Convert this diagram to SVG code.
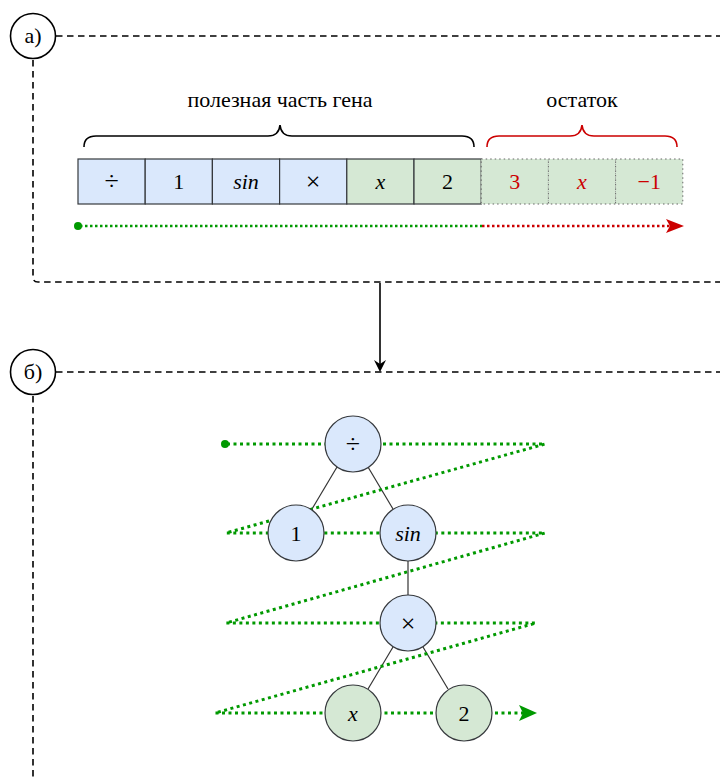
<svg xmlns="http://www.w3.org/2000/svg" width="720" height="781" viewBox="0 0 720 781">
<defs>
<style>
.frame{fill:none;stroke:#000;stroke-width:1.6;stroke-dasharray:6.5 4.5}
.lbl{fill:#fff;stroke:#000;stroke-width:1.6}
text{font-family:"Liberation Serif","Times New Roman",serif;text-anchor:middle;fill:#000}
.math{font-size:22px}
.op{font-size:26px}
.it{font-style:italic}
.red{fill:#cc0000}
.cb{fill:#dae8fc;stroke:#36393d;stroke-width:1.2}
.cg{fill:#d5e8d4;stroke:#36393d;stroke-width:1.2}
.cr{fill:#d5e8d4;stroke:#666;stroke-width:1;stroke-dasharray:1.5 3}
.edge{stroke:#333;stroke-width:1.2;fill:none}
.gdot{fill:none;stroke:#009900;stroke-width:2.5;stroke-dasharray:2.5 2.5}
.gzig{fill:none;stroke:#009900;stroke-width:3;stroke-dasharray:3 3.5;stroke-linejoin:miter;stroke-miterlimit:12}
.rdot{fill:none;stroke:#cc0000;stroke-width:2.5;stroke-dasharray:2.5 2.5}
</style>
</defs>

<g id="frame-a">
<path class="frame" d="M56,36 H720"/>
<path class="frame" d="M33,60 V277 Q33,282 38,282 H720"/>
<g id="label-a">
<circle class="lbl" cx="33" cy="36" r="22.5"/>
<text x="33" y="43" font-size="22">а)</text>
</g>
</g>

<g id="frame-b">
<path class="frame" d="M56,372 H720"/>
<path class="frame" d="M33,396 V781"/>
<g id="label-b">
<circle class="lbl" cx="33" cy="372" r="22.5"/>
<text x="33" y="379" font-size="22">б)</text>
</g>
</g>

<g id="gene">
<g id="cell-div"><rect class="cb" x="78" y="159" width="67.2" height="45"/><text class="op" x="111.6" y="190">÷</text></g>
<g id="cell-1"><rect class="cb" x="145.2" y="159" width="67.2" height="45"/><text class="math" x="178.8" y="189">1</text></g>
<g id="cell-sin"><rect class="cb" x="212.4" y="159" width="67.2" height="45"/><text class="math it" x="246" y="189">sin</text></g>
<g id="cell-mul"><rect class="cb" x="279.6" y="159" width="67.2" height="45"/><text class="op" x="313.2" y="190">×</text></g>
<g id="cell-x"><rect class="cg" x="346.8" y="159" width="67.2" height="45"/><text class="math it" x="380.4" y="189">x</text></g>
<g id="cell-2"><rect class="cg" x="414" y="159" width="67.2" height="45"/><text class="math" x="447.6" y="189">2</text></g>
<g id="cell-r3"><rect class="cr" x="481.2" y="159" width="67.2" height="45"/><text class="math red" x="514.8" y="189">3</text></g>
<g id="cell-rx"><rect class="cr" x="548.4" y="159" width="67.2" height="45"/><text class="math it red" x="582" y="189">x</text></g>
<g id="cell-rm1"><rect class="cr" x="615.6" y="159" width="67.2" height="45"/><text class="math red" x="649.2" y="189">−1</text></g>
</g>

<g id="braces">
<path d="M84,147 Q84,136 96,136 H268 Q279,136 280,125 Q281,136 292,136 H462 Q474,136 474,147" fill="none" stroke="#000" stroke-width="1.6"/>
<path d="M487,147 Q487,136 499,136 H570 Q581,136 582,125 Q583,136 594,136 H665 Q677,136 677,147" fill="none" stroke="#cc0000" stroke-width="1.6"/>
<text x="280" y="107" font-size="22">полезная часть гена</text>
<text x="582" y="107" font-size="22">остаток</text>
</g>

<g id="connectors">
<circle cx="78" cy="226" r="4" fill="#009900"/>
<path class="gdot" d="M80,226 H482"/>
<path class="rdot" d="M482,226 H672"/>
<path d="M666,219 L684,226 L666,233 L670,226 Z" fill="#cc0000"/>
<path d="M380,283 V366" stroke="#000" stroke-width="1.6" fill="none"/>
<path d="M374,360 L380,372 L386,360 L380,364 Z" fill="#000"/>
<path class="edge" d="M337,467 L312,509"/>
<path class="edge" d="M368,467 L393,509"/>
<path class="edge" d="M408,561 V595"/>
<path class="edge" d="M393,647 L368,689"/>
<path class="edge" d="M423,647 L448,689"/>
<circle cx="225" cy="444" r="4" fill="#009900"/>
<path class="gzig" d="M227,444 H545 L226,533 H545 L226,623 H536 L215,713 H524"/>
<path d="M519,705 L537,713 L519,721 L523,713 Z" fill="#009900"/>
</g>

<g id="node-div"><circle class="cb" cx="353" cy="444" r="28"/><text class="op" x="353" y="453">÷</text></g>
<g id="node-1"><circle class="cb" cx="296" cy="533" r="28"/><text class="math" x="296" y="541">1</text></g>
<g id="node-sin"><circle class="cb" cx="408" cy="533" r="28"/><text class="math it" x="408" y="541">sin</text></g>
<g id="node-mul"><circle class="cb" cx="408" cy="623" r="28"/><text class="op" x="408" y="632">×</text></g>
<g id="node-x"><circle class="cg" cx="353" cy="713" r="28"/><text class="math it" x="353" y="721">x</text></g>
<g id="node-2"><circle class="cg" cx="464" cy="713" r="28"/><text class="math" x="464" y="721">2</text></g>
</svg>
